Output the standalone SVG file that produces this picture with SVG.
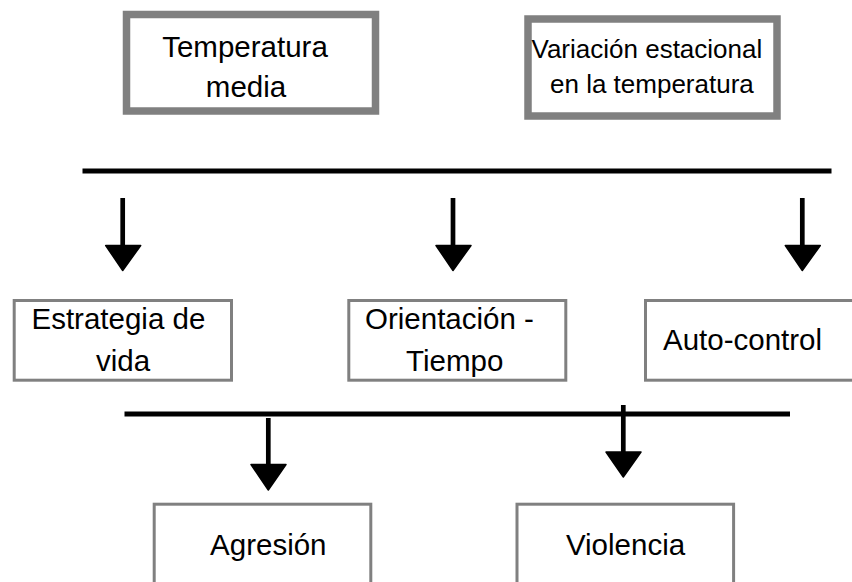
<svg xmlns="http://www.w3.org/2000/svg" width="852" height="582" viewBox="0 0 852 582">
<style>
.thick{fill:#fff;stroke:#808080;stroke-width:7.5}
.thin{fill:#fff;stroke:#808080;stroke-width:3}
text{font-family:"Liberation Sans",Arial,sans-serif;fill:#000;font-size:29.5px}
.sm{font-size:26px}
.bar{stroke:#000;stroke-width:4.8;fill:none}
.shaft{stroke:#000;stroke-width:4.7;fill:none}
.head{fill:#000;stroke:#000;stroke-width:1.5;stroke-linejoin:round}
</style>
<rect width="852" height="582" fill="#fff"/>
<g id="temperatura-media">
<rect class="thick" x="126.5" y="14.5" width="249" height="96.5"/>
<text x="245" y="56.5" text-anchor="middle">Temperatura</text>
<text x="246" y="97" text-anchor="middle">media</text>
</g>
<g id="variacion-estacional">
<rect class="thick" x="528" y="19" width="249" height="97"/>
<text class="sm" x="531.5" y="58.3">Variación estacional</text>
<text class="sm" x="550" y="93.3">en la temperatura</text>
</g>
<g id="estrategia-de-vida">
<rect class="thin" x="14.2" y="300.5" width="217.3" height="79.7"/>
<text x="31.5" y="329.3">Estrategia de</text>
<text x="123" y="370.7" text-anchor="middle">vida</text>
</g>
<g id="orientacion-tiempo">
<rect class="thin" x="348.8" y="300.5" width="217" height="79.7"/>
<text x="365" y="329.3">Orientación -</text>
<text x="454.7" y="370.7" text-anchor="middle">Tiempo</text>
</g>
<g id="auto-control">
<rect class="thin" x="645.5" y="300.5" width="220" height="79.7"/>
<text x="663" y="350">Auto-control</text>
</g>
<g id="agresion">
<rect class="thin" x="154.2" y="504.2" width="216.6" height="100"/>
<text x="268.3" y="555" text-anchor="middle">Agresión</text>
</g>
<g id="violencia">
<rect class="thin" x="517" y="504.2" width="216.6" height="100"/>
<text x="625.5" y="555" text-anchor="middle">Violencia</text>
</g>
<g id="connectors">
<line class="bar" x1="82.5" y1="171" x2="831.5" y2="171"/>
<line class="bar" x1="124.5" y1="414" x2="790" y2="414"/>
<line class="shaft" x1="122.7" y1="198" x2="122.7" y2="247"/>
<polygon class="head" points="105.7,245.5 140.7,245.5 122.7,270.5"/>
<line class="shaft" x1="453" y1="198" x2="453" y2="247"/>
<polygon class="head" points="436,245.5 471,245.5 453,270.5"/>
<line class="shaft" x1="802.3" y1="198" x2="802.3" y2="247"/>
<polygon class="head" points="785.3,245.5 820.3,245.5 802.3,270.5"/>
<line class="shaft" x1="268.3" y1="418" x2="268.3" y2="466"/>
<polygon class="head" points="251,464.5 286,464.5 268.3,490"/>
<line class="shaft" x1="623.3" y1="405" x2="623.3" y2="453"/>
<polygon class="head" points="606,452 641,452 623.3,477"/>
</g>
</svg>
